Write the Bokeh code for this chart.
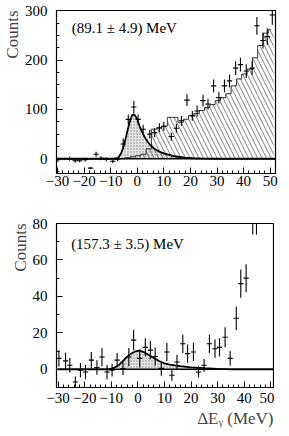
from bokeh.plotting import figure
from bokeh.models import Range1d, SingleIntervalTicker, Title, Label
from bokeh.layouts import column
from bokeh.embed import file_html
from bokeh.resources import INLINE

FONT = "Liberation Serif"

# ---------------- top panel data ----------------
top_x = [-29.9, -25.5, -23.4, -21.7, -19.6, -17.6, -15.5, -13.6, -11.7, -9.2, -7.4, -5.3,
         -3.4, -1.3, 0.3, 2.2, 4.7, 6.5, 8.3, 10.0, 12.8, 14.7, 16.6, 18.7, 20.7, 22.5,
         24.7, 26.6, 28.7, 30.7, 32.8, 34.7, 37.0, 38.8, 41.0, 43.2, 45.0, 47.3, 48.9, 50.8]
top_y = [-2, 0, -4, -4, -2, -19, 9, 1, -1, -5, -1, 30,
         80, 105, 80, 60, 50, 53, 63, 66, 45, 62, 77, 119, 87, 97,
         118, 111, 148, 124, 148, 158, 184, 191, 178, 184, 270, 240, 248, 292]
top_err = [4, 4, 4, 3, 4, 2, 5, 4, 4, 4, 4, 11,
           10, 12, 10, 9, 9, 9, 9, 9, 8, 9, 10, 12, 10, 11,
           12, 11, 13, 12, 13, 13, 14, 14, 14, 14, 18, 16, 17, 20]

# background histogram (hatched), bin centres and contents
hist_x = [-29.7, -27.7, -25.7, -23.7, -21.7, -19.7, -17.7, -15.7, -13.7, -11.7, -9.7, -7.7,
          -5.7, -3.7, -1.7, 0.3, 2.3, 4.3, 6.3, 8.3, 10.3, 12.3, 14.3, 16.3, 18.3, 20.3,
          22.3, 24.3, 26.3, 28.3, 30.3, 32.3, 34.3, 36.3, 38.3, 40.3, 42.3, 44.3, 46.3, 48.3, 50.3]
hist_y = [0, 0, 0, 0, 0, 0, 0, 0, 0, 0, 0, 0,
          0, 2, 4, 6, 9, 20, 60, 62, 66, 84, 84, 74, 80, 88,
          92, 98, 104, 110, 118, 124, 132, 148, 162, 172, 182, 205, 230, 255, 262]
hist_width = 2.0

# signal fit curve
top_cx = [-30, -9, -8, -7, -6, -5, -4, -3, -2, -1.5, -1, 0, 1, 2, 3, 4, 5, 6, 8, 10, 12, 14, 16,
          18, 21, 25, 30, 52]
top_cy = [0, 0, 0.5, 3, 12, 28, 50, 72, 88, 90, 89, 80, 64, 52, 42, 34, 27, 22, 15, 11, 8, 5,
          3.5, 2, 1, 0.3, 0, 0]

# ---------------- bottom panel data ----------------
bot_x = [-29.7, -27.2, -25.6, -23.5, -21.6, -19.7, -17.5, -15.4, -13.5, -11.6, -9.7, -7.8,
         -5.6, -3.4, -1.6, 0.7, 2.8, 4.7, 6.5, 8.8, 10.9, 12.8, 14.7, 16.9, 18.7, 20.9,
         22.8, 24.9, 26.9, 29.0, 30.7, 32.8, 34.7, 37.0, 38.7, 40.7, 43.2, 44.6]
bot_y = [6, 4.6, 2.2, -7, -0.5, -1.5, 5, 1, 6.7, -1.5, -0.5, 5,
         0.4, 6.7, 16, 6, 12, 10.5, 7, 0.5, 9.5, -3.3, 4, 14, 8.6, 9.5,
         -1.5, 2.2, 14, 11.3, 12, 17.6, 6, 28, 47, 50, 90, 90]
bot_err = [4.5, 4.5, 4, 3, 4, 4, 4.5, 4, 5, 4, 3.5, 4,
           3.5, 5, 5.5, 5, 5, 5, 5, 4, 5, 3, 4, 5, 5, 5,
           3, 3.5, 5, 5, 5, 5.5, 4, 6.4, 7.7, 7.7, 16, 16]

bot_cx = [-30, -11, -9, -7, -5, -3, -1, 0.5, 2, 4, 6, 8, 10, 12, 14, 16, 20, 25, 30, 35, 52]
bot_cy = [0, 0, 0.8, 2.5, 5.5, 8.2, 9.8, 10.2, 9.6, 8, 6.2, 4.5, 3.3, 2.6, 2.1, 1.7, 1.1, 0.6,
          0.2, 0, 0]

x_ticks_major = 10


def style(p, y_interval, y_minor, x_standoff):
    p.outline_line_color = "black"
    p.outline_line_width = 1.2
    p.xgrid.visible = False
    p.ygrid.visible = False
    p.xaxis.ticker = SingleIntervalTicker(interval=x_ticks_major, num_minor_ticks=5)
    p.yaxis.ticker = SingleIntervalTicker(interval=y_interval, num_minor_ticks=y_minor)
    for ax in (p.xaxis[0], p.yaxis[0]):
        ax.major_tick_in = 6
        ax.major_tick_out = 0
        ax.minor_tick_in = 3
        ax.minor_tick_out = 0
        ax.axis_line_color = "black"
        ax.major_tick_line_color = "black"
        ax.minor_tick_line_color = "black"
        ax.major_label_text_font = FONT
        ax.major_label_text_font_size = "15px"
        ax.major_label_text_color = "black"
    p.xaxis.major_label_standoff = x_standoff
    p.yaxis.major_label_standoff = 9
    p.add_layout(Title(text="Counts", align="right", text_font=FONT, text_font_size="17px",
                       text_font_style="normal", standoff=0), "left")


def errbars(p, xs, ys, es):
    p.segment(x0=xs, x1=xs, y0=[y - e for y, e in zip(ys, es)],
              y1=[y + e for y, e in zip(ys, es)], line_color="black", line_width=1.1)
    p.segment(x0=[x - 1 for x in xs], x1=[x + 1 for x in xs], y0=ys, y1=ys,
              line_color="black", line_width=1.1)


# ---------------- top figure ----------------
p1 = figure(frame_width=219, frame_height=163, x_range=Range1d(-30.4, 52.0),
            y_range=Range1d(-30, 301),
            toolbar_location=None, output_backend="svg",
            min_border_left=52, min_border_right=9, min_border_top=10, min_border_bottom=30)
style(p1, 100, 4, 2)

p1.varea(x=top_cx, y1=0, y2=top_cy, fill_color="#e4e4e4", hatch_pattern=".",
         hatch_color="#8a8a8a", hatch_scale=3, hatch_weight=0.8)
p1.quad(left=[x - hist_width / 2 for x in hist_x], right=[x + hist_width / 2 for x in hist_x],
        bottom=0, top=hist_y, fill_color=None, line_color=None,
        hatch_pattern="\\", hatch_color="#444444", hatch_scale=9, hatch_weight=0.7)
p1.step(x=hist_x, y=hist_y, mode="center", line_color="#333333", line_width=1)
p1.line(x=top_cx, y=top_cy, line_color="black", line_width=1.8)
p1.line(x=[-31, 53], y=[0, 0], line_color="black", line_width=1.5)
errbars(p1, top_x, top_y, top_err)
p1.add_layout(Label(x=-24.7, y=266, text="(89.1 \u00b1 4.9) MeV", text_font=FONT,
                    text_font_size="15px", text_baseline="middle", text_color="black"))

# ---------------- bottom figure ----------------
p2 = figure(frame_width=217, frame_height=164, x_range=Range1d(-30.6, 51.0),
            y_range=Range1d(-10, 80),
            toolbar_location=None, output_backend="svg",
            min_border_left=51, min_border_right=6, min_border_top=20, min_border_bottom=46)
style(p2, 20, 2, 5)
p2.varea(x=bot_cx, y1=0, y2=bot_cy, fill_color="#e4e4e4", hatch_pattern=".",
         hatch_color="#8a8a8a", hatch_scale=3, hatch_weight=0.8)
p2.line(x=bot_cx, y=bot_cy, line_color="black", line_width=1.8)
p2.line(x=[-31, 53], y=[0, 0], line_color="black", line_width=1.5)
errbars(p2, bot_x, bot_y, bot_err)
p2.add_layout(Label(x=-25.1, y=68.9, text="(157.3 \u00b1 3.5) MeV", text_font=FONT,
                    text_font_size="15px", text_baseline="middle", text_color="black"))
p2.add_layout(Title(text="\u0394E\u1d67 (MeV)", align="right", text_font=FONT,
                    text_font_size="17px", text_font_style="normal", standoff=2), "below")

layout = column(p1, p2, spacing=0)
open("out.html", "w").write(file_html(layout, INLINE))
